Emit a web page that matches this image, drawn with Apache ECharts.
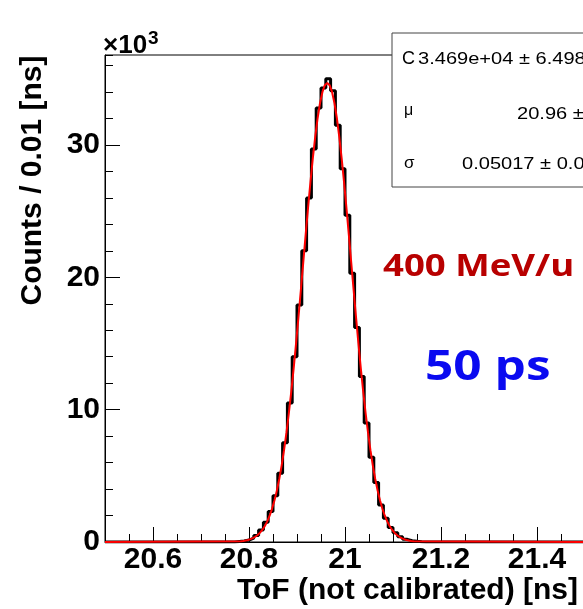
<!DOCTYPE html>
<html>
<head>
<meta charset="utf-8">
<script src="https://cdn.jsdelivr.net/npm/echarts@6/dist/echarts.min.js"></script>
<style>
html,body{margin:0;padding:0;background:#fff;}
#chart{width:583px;height:609px;}
</style>
</head>
<body>
<div id="chart"></div>
<script>
// ---- data ----
const xMin = 20.5;
const xMax = 21.5;
const yMax = 36800;
const binWidth = 0.01;
const firstBin = 20.77;
const counts = [40,80,150,300,500,900,1500,2300,3500,5200,7500,10500,14000,17900,22000,26000,29700,32800,34300,35000,34100,31500,28200,24700,20300,16200,12500,9000,6400,4500,2800,1800,1100,700,400,200,100,50,20];
const fitStart = 20.783;
const fitStep = 0.005;
const fitY = [56,79,111,155,215,293,397,533,707,929,1208,1557,1986,2507,3136,3883,4759,5776,6942,8259,9729,11348,13107,14987,16969,19022,21113,23202,25245,27197,29011,30640,32040,33174,34008,34518,34690,34518,34008,33174,32040,30640,29011,27197,25245,23202,21113,19022,16969,14987,13107,11348,9729,8259,6942,5776,4759,3883,3136,2507,1986,1557,1208,929,707,533,397,293,215,155,111,79,56];
const xTickLabels = [20.6, 20.8, 21, 21.2, 21.4];
const yTickLabels = [0, 10000, 20000, 30000];
const statNames = ['C', 'μ', 'σ'];
const statValues = ['3.469e+04 ± 6.498e+01', '20.96 ± 0.00', '0.05017 ± 0.00003'];

// ---- build series data ----
const nBins = Math.round((xMax - xMin) / binWidth);
const histData = [];
for (let i = 0; i < nBins; i++) {
  const x = +(xMin + i * binWidth).toFixed(2);
  const idx = Math.round((x - firstBin) / binWidth);
  const v = (idx >= 0 && idx < counts.length) ? counts[idx] : 0;
  histData.push([x, v]);
}
histData.push([xMax, 0]);

const fitData = [[xMin, 0]];
fitY.forEach((v, i) => fitData.push([+(fitStart + i * fitStep).toFixed(3), v]));
fitData.push([xMax, 0]);

const F = 'Liberation Sans, Arial, Helvetica, sans-serif';
const chart = echarts.init(document.getElementById('chart'), null, {renderer: 'canvas'});

const statText = (x, y, text, size, sx) => ({
  type: 'text', x: x, y: y, z: 21, scaleX: sx,
  style: {text: text, fontFamily: F, fontSize: size, fill: '#000', verticalAlign: 'middle'}
});

chart.setOption({
  animation: false,
  backgroundColor: '#fff',
  grid: {
    left: 105, top: 55, width: 480, height: 487,
    show: true, borderColor: '#000', borderWidth: 1,
    containLabel: false, outerBoundsMode: 'none'
  },
  xAxis: [
    {
      type: 'value', position: 'bottom', min: xMin, max: xMax,
      name: 'ToF (not calibrated) [ns]', nameLocation: 'end', nameGap: -7, nameMoveOverlap: false,
      nameTextStyle: {fontFamily: F, fontWeight: 'bold', fontSize: 30, color: '#000', align: 'right', verticalAlign: 'top', padding: [34, 0, 0, 0]},
      axisLine: {show: true, onZero: false, lineStyle: {color: '#000', width: 1}},
      axisTick: {show: true, inside: true, length: 15, customValues: xTickLabels, lineStyle: {color: '#000', width: 1}},
      axisLabel: {show: true, customValues: xTickLabels, margin: 3, fontFamily: F, fontWeight: 'bold', fontSize: 30, color: '#000'},
      splitLine: {show: false}
    },
    {
      type: 'value', position: 'bottom', min: xMin, max: xMax, interval: 0.05,
      axisLine: {show: false, onZero: false},
      axisTick: {show: true, inside: true, length: 8, lineStyle: {color: '#000', width: 1}},
      axisLabel: {show: false},
      splitLine: {show: false}
    }
  ],
  yAxis: [
    {
      type: 'value', position: 'left', min: 0, max: yMax,
      name: 'Counts / 0.01 [ns]', nameLocation: 'middle', nameGap: 72, nameRotate: 90, nameMoveOverlap: false,
      nameTextStyle: {fontFamily: F, fontWeight: 'bold', fontSize: 30, color: '#000', align: 'center', verticalAlign: 'middle', padding: [0, 0, 0, 236]},
      axisLine: {show: true, onZero: false, lineStyle: {color: '#000', width: 1}},
      axisTick: {show: true, inside: true, length: 15, customValues: yTickLabels, lineStyle: {color: '#000', width: 1}},
      axisLabel: {show: true, customValues: yTickLabels, margin: 5, fontFamily: F, fontWeight: 'bold', fontSize: 30, color: '#000',
        formatter: v => String(Math.round(v / 1000))},
      splitLine: {show: false}
    },
    {
      type: 'value', position: 'left', min: 0, max: yMax, interval: 2000,
      axisLine: {show: false, onZero: false},
      axisTick: {show: true, inside: true, length: 8, lineStyle: {color: '#000', width: 1}},
      axisLabel: {show: false},
      splitLine: {show: false}
    }
  ],
  series: [
    {
      name: 'histogram', type: 'line', step: 'end', data: histData,
      xAxisIndex: 0, yAxisIndex: 0, symbol: 'none', silent: true,
      lineStyle: {color: '#000', width: 3}, z: 3
    },
    {
      name: 'fit', type: 'line', data: fitData, smooth: false,
      xAxisIndex: 0, yAxisIndex: 0, symbol: 'none', silent: true,
      lineStyle: {color: '#ff0000', width: 2}, z: 4
    }
  ],
  graphic: [
    {
      type: 'text', left: 103, top: 29, z: 10,
      style: {
        text: '×10{s|3}', fontFamily: F, fontWeight: 'bold', fontSize: 26, fill: '#000',
        rich: {s: {fontFamily: F, fontWeight: 'bold', fontSize: 19, verticalAlign: 'top', padding: [0, 0, 14, 1]}}
      }
    },
    {
      type: 'rect', z: 20, shape: {x: 392, y: 33, width: 260, height: 154},
      style: {fill: '#fff', stroke: '#444', lineWidth: 1}
    },
    statText(402, 59, statNames[0], 18, 1),
    statText(418, 59, statValues[0], 17, 1.18),
    statText(404, 111, statNames[1], 16, 1),
    statText(517, 114, statValues[1], 17, 1.18),
    statText(404, 163, statNames[2], 17, 1),
    statText(462, 164, statValues[2], 17, 1.18),
    {
      type: 'text', x: 383, y: 267, z: 21, scaleX: 1.18,
      style: {text: '400 MeV/u', fontFamily: 'Open Sans, Noto Sans, sans-serif', fontWeight: 'bold', fontSize: 31, fill: '#b80000', verticalAlign: 'middle'}
    },
    {
      type: 'text', x: 425, y: 368, z: 21, scaleX: 1.18,
      style: {text: '50 ps', fontFamily: 'Open Sans, Noto Sans, sans-serif', fontWeight: 'bold', fontSize: 42, fill: '#0a0af0', verticalAlign: 'middle'}
    }
  ]
});
</script>
</body>
</html>
